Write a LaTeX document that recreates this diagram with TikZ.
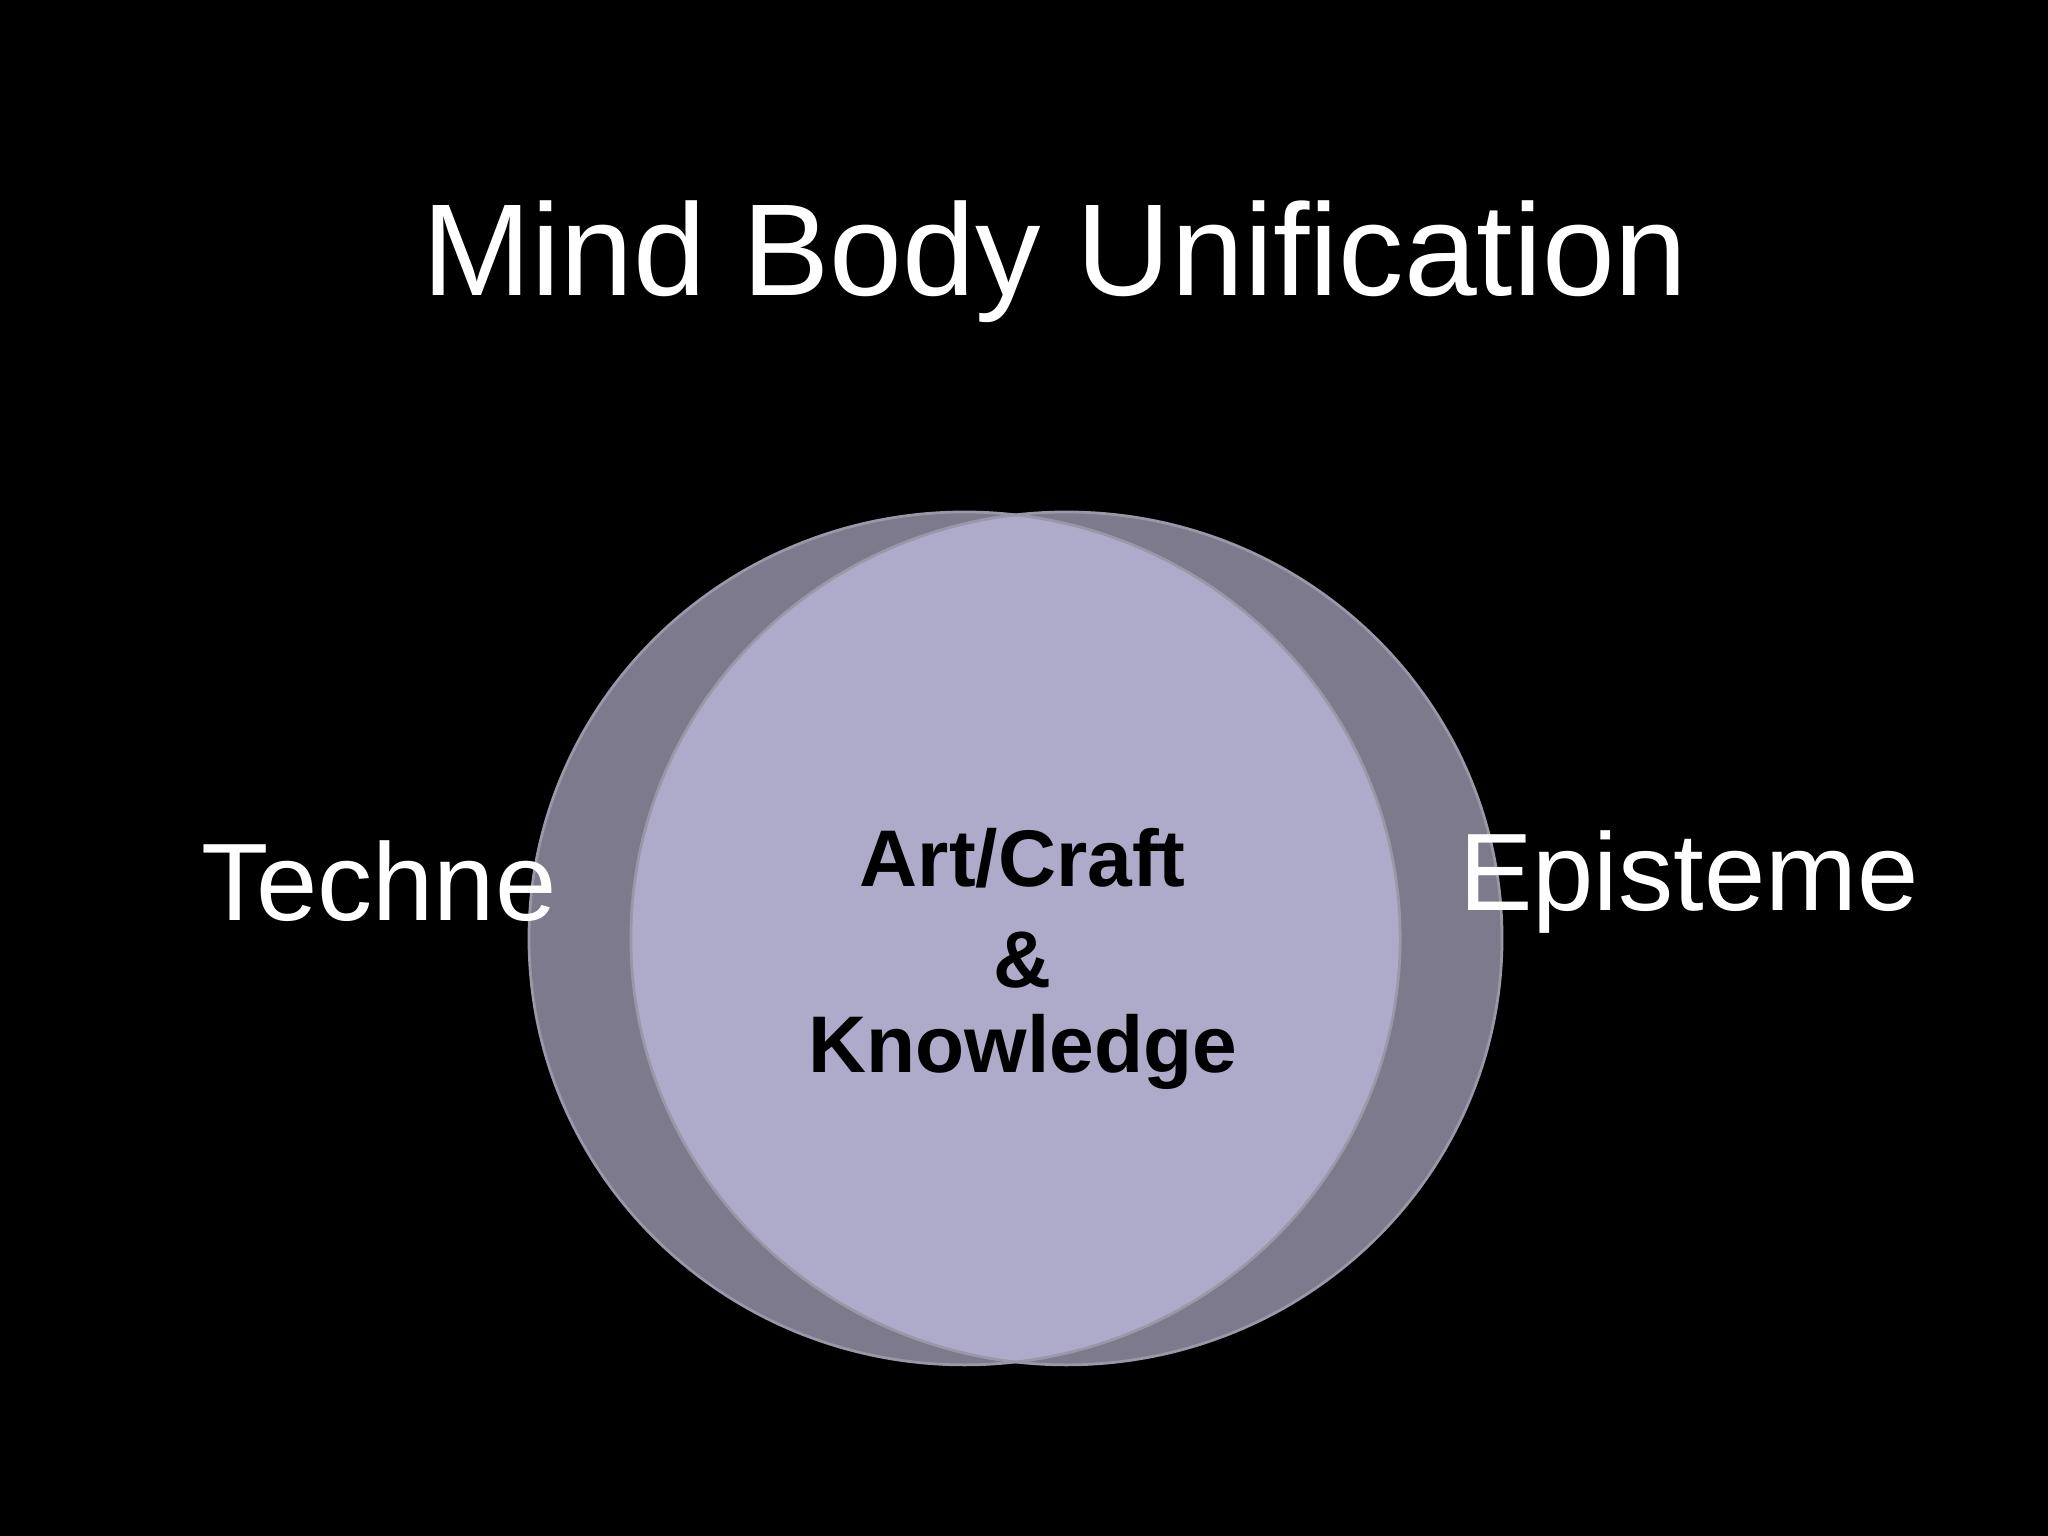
\documentclass[tikz,border=0pt]{standalone}
\usepackage{fontspec}
\setmainfont{Liberation Sans}
\definecolor{outerc}{HTML}{7C7A8C}
\definecolor{innerc}{HTML}{ADABC9}
\definecolor{edgec}{HTML}{9A98A8}
\begin{document}
\begin{tikzpicture}[x=1cm,y=1cm,
  lbl/.style={text=white,inner sep=0pt},
  inner/.style={text=black,font=\fontsize{17.5}{21}\selectfont\bfseries,align=center,inner sep=0pt}]
\fill[black] (0,0) rectangle (15.68,11.76);
\useasboundingbox (0,0) rectangle (15.68,11.76);
\fill[outerc] (7.385,4.575) ellipse [x radius=3.335,y radius=3.265];
\fill[outerc] (8.165,4.575) ellipse [x radius=3.335,y radius=3.265];
\begin{scope}
\clip (7.385,4.575) ellipse [x radius=3.335,y radius=3.265];
\fill[innerc] (8.165,4.575) ellipse [x radius=3.335,y radius=3.265];
\end{scope}
\draw[edgec,line width=0.6pt] (7.385,4.575) ellipse [x radius=3.335,y radius=3.265];
\draw[edgec,line width=0.6pt] (8.165,4.575) ellipse [x radius=3.335,y radius=3.265];
\node[lbl,font=\fontsize{28.5}{34}\selectfont] (title) at (8.08,9.76) {Mind Body Unification};
\node[lbl,font=\fontsize{24}{29}\selectfont] (techne) at (2.9,5.01) {Techne};
\node[lbl,font=\fontsize{24}{29}\selectfont] (episteme) at (12.93,5.01) {Episteme};
\node[inner] (a) at (7.83,5.19) {Art/Craft};
\node[inner] (b) at (7.83,4.41) {\&};
\node[inner] (c) at (7.83,3.71) {Knowledge};
\end{tikzpicture}
\end{document}
